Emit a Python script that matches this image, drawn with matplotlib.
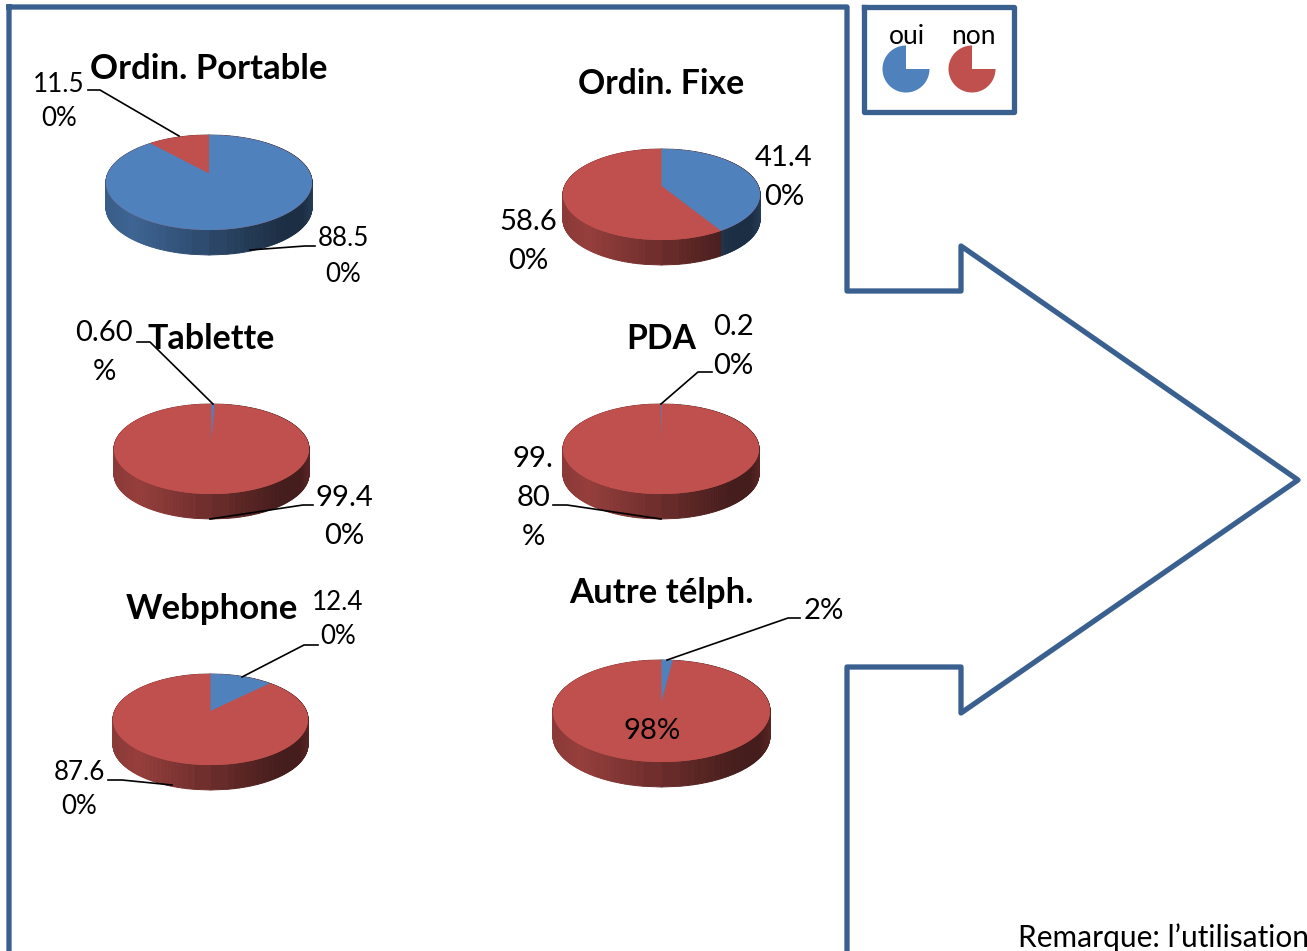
import numpy as np
import matplotlib
matplotlib.use('Agg')
import matplotlib.pyplot as plt
from matplotlib.collections import PolyCollection

titles = ['Ordin. Portable', 'Ordin. Fixe', 'Tablette', 'PDA', 'Webphone', 'Autre télph.']
oui = [88.5, 41.4, 0.6, 0.2, 12.4, 2]
non = [11.5, 58.6, 99.4, 99.8, 87.6, 98]
legend_names = ['oui', 'non']
legend_shares = [75, 25]
note = 'Remarque: l’utilisation'

# left, right, top, bottom of the top ellipse (px)
boxes = [(106, 312, 135, 230), (563, 760, 149, 240), (114, 309, 404, 494),
         (563, 759, 404, 494), (113, 308, 674, 765), (553, 770, 660, 762)]
title_pos = [(209, 69), (661, 84), (211, 339), (661, 339), (212, 609), (661, 593)]
title_size = [25, 24.3, 24.5, 24.3, 25, 25]

BLUE = np.array(matplotlib.colors.to_rgb('#4F81BD'))
RED = np.array(matplotlib.colors.to_rgb('#C0504D'))
LINE = '#3A6090'
DEPTH = 25
K = 0.19

fig = plt.figure(figsize=(13.07, 9.51), dpi=100)
ax = fig.add_axes([0, 0, 1, 1])
ax.set_xlim(0, 1307)
ax.set_ylim(951, 0)
ax.axis('off')
plt.rcParams['font.family'] = ['Lato', 'DejaVu Sans']


def project(t, box):
    # tilted disc: the centre of the pie sits above the middle of the ellipse
    l, r, top, bot = box
    h = bot - top
    up = h / (1 + (1 + K) / (1 - K))
    s = up * (1 + K)
    s2 = (r - l) / 2 * np.sqrt(1 - K ** 2)
    x, y = np.sin(t), np.cos(t)
    return (l + r) / 2 + s2 * x / (1 + K * y), top + up - s * y / (1 + K * y)


def shade(u):
    # u runs 0..1 left to right along the wall
    return np.interp(u, [0, 0.12, 0.85, 0.95, 1], [0.72, 0.78, 0.36, 0.36, 0.46])


def pie3d(a, b, box):
    ends = 2 * np.pi * a / (a + b)
    # wall strips, even in x so the gradient has no bands
    n = 400
    tt = np.arccos(np.linspace(1, -1, n // 2 + 1))
    tt = np.r_[tt, 2 * np.pi - tt[::-1][1:]]
    xs, ys = project(tt, box)
    quads, cols = [], []
    for i in range(n):
        mid = (tt[i] + tt[i + 1]) / 2
        base = BLUE if mid < ends else RED
        u = ((xs[i] + xs[i + 1]) / 2 - box[0]) / (box[1] - box[0])
        quads.append([(xs[i], ys[i]), (xs[i + 1], ys[i + 1]),
                      (xs[i + 1], ys[i + 1] + DEPTH), (xs[i], ys[i] + DEPTH)])
        cols.append(base * shade(u))
    ax.add_collection(PolyCollection(quads, facecolors=cols, edgecolors=cols, linewidths=0.7, zorder=2))
    cx = (box[0] + box[1]) / 2
    _, apex_y = project(np.array([np.pi / 2]), box)
    t1 = np.linspace(0, ends, 300)
    x1, y1 = project(t1, box)
    t2 = np.linspace(ends, 2 * np.pi, 300)
    x2, y2 = project(t2, box)
    # whole disc in red first so no wall shows through the slice joins
    t3 = np.linspace(0, 2 * np.pi, 600)
    x3, y3 = project(t3, box)
    ax.fill(x3, y3, color=RED, lw=0, zorder=3)
    ax.fill(np.r_[cx, x2], np.r_[apex_y, y2], color=RED, lw=0, zorder=3)
    ax.fill(np.r_[cx, x1], np.r_[apex_y, y1], color=BLUE, lw=0, zorder=4)


for i in range(6):
    pie3d(oui[i], non[i], boxes[i])
    ax.text(title_pos[i][0], title_pos[i][1], titles[i], fontsize=title_size[i], fontweight='bold',
            ha='center', va='center', color='black', zorder=6)

# pie labels, wrapped as in the source
labels = [
    ('11.5', 59, 84, 24), ('0%', 59, 118, 24),
    ('88.5', 343, 239, 24), ('0%', 343, 274, 24),
    ('41.4', 784, 158, 27), ('0%', 784, 197, 27),
    ('58.6', 528, 222, 27), ('0%', 528, 261, 27),
    ('0.60', 104, 333, 27), ('%', 104, 372, 27),
    ('99.4', 344, 498, 27), ('0%', 344, 536, 27),
    ('0.2', 733, 327, 27), ('0%', 733, 366, 27),
    ('99.', 533, 459, 27), ('80', 533, 498, 27), ('%', 533, 537, 27),
    ('12.4', 338, 603, 24), ('0%', 338, 637, 24),
    ('87.6', 79, 772, 24), ('0%', 79, 807, 24),
    ('2%', 824, 611, 27), ('98%', 652, 731, 27),
]
for s, x, y, size in labels:
    ax.text(x, y, s, fontsize=size * 0.78, ha='center', va='center', color='black', zorder=6)

# leader lines
leaders = [
    [(88, 90), (100, 90), (179, 136)],
    [(250, 250), (305, 246), (315, 246)],
    [(137, 342), (150, 342), (213, 404)],
    [(210, 519), (303, 505), (313, 505)],
    [(712, 372), (698, 372), (661, 404)],
    [(553, 505), (567, 505), (661, 519)],
    [(318, 645), (304, 645), (242, 677)],
    [(108, 780), (122, 780), (172, 785)],
    [(800, 618), (788, 618), (667, 660)],
]
for pts in leaders:
    ax.plot([p[0] for p in pts], [p[1] for p in pts], color='black', lw=1.2, zorder=5)

# block arrow outline
outline_x = [9, 847, 847, 961, 961, 1298, 961, 961, 847, 847, 9, 9]
outline_y = [7, 7, 291, 291, 246, 480, 713, 667, 667, 960, 960, 7]
ax.plot(outline_x, outline_y, color=LINE, lw=3.8, solid_joinstyle='round', zorder=1)

# legend box
ax.plot([864, 1014, 1014, 864, 864], [7, 7, 112, 112, 7], color=LINE, lw=3.8,
        solid_joinstyle='round', zorder=1)
for name, x0, col in zip(legend_names, [906, 972], [BLUE, RED]):
    t = np.linspace(0, 2 * np.pi * legend_shares[0] / sum(legend_shares), 200)
    ax.fill(np.r_[x0, x0 + 23.5 * np.cos(t)], np.r_[69, 69 + 23.5 * np.sin(t)], color=col, lw=0, zorder=3)
    ax.text(x0 + 1, 36, name, fontsize=19, ha='center', va='center', color='black', zorder=6)

ax.text(1018, 938, note, fontsize=21.5, ha='left', va='center', color='black', zorder=6)

fig.savefig('out.png', dpi=100)
